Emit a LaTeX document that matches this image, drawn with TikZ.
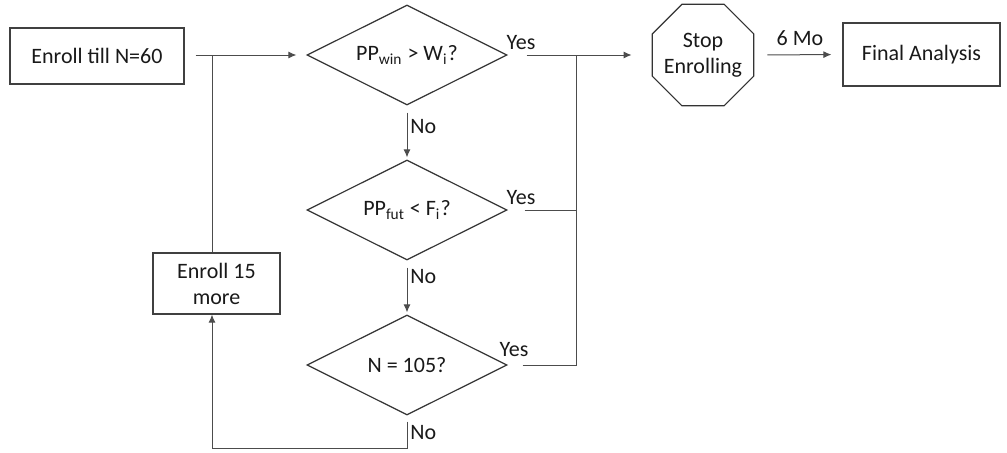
\documentclass[tikz,border=0pt]{standalone}
\usepackage{fontspec}
\setmainfont{Carlito}
\usepackage{tikz}
\usetikzlibrary{positioning,shapes.geometric,arrows.meta}

\tikzset{
  box/.style={draw=black!75, line width=0.6pt, rectangle, align=center, inner sep=2pt},
  decision/.style={draw=black!80, line width=0.6pt, diamond, aspect=2, inner sep=0pt, minimum width=100pt, minimum height=50pt},
  stopsign/.style={draw=black!80, line width=0.6pt, regular polygon, regular polygon sides=8, minimum size=55pt, align=center, inner sep=0pt},
  link/.style={draw=black!70, line width=0.5pt},
  arrow/.style={link, -{Latex[length=4pt,width=3.5pt]}}
}

\begin{document}
\begin{tikzpicture}[x=0.5pt,y=-0.5pt,font=\fontsize{11}{13}\selectfont,text=black!90]

\useasboundingbox (0,0) rectangle (1007,452);

\node[box, minimum width=87pt, minimum height=28pt](enroll) at (97,56) {Enroll till N=60};
\node[box, minimum width=63.5pt, minimum height=30.5pt](more) at (216.5,283.5) {Enroll 15\\more};

\node[decision](win) at (407,55) {PP\textsubscript{win} > W\textsubscript{i}?};
\node[decision](fut) at (407,210) {PP\textsubscript{fut} < F\textsubscript{i}?};
\node[decision](last) at (407,365) {N = 105?};

\node[stopsign](stop) at (703,55) {};
\node[align=center](stoptext) at (stop.center) {Stop\\Enrolling};
\node[box, minimum width=78.5pt, minimum height=31.5pt](final) at (921.5,54.5) {Final Analysis};

\coordinate(loop) at (212,55);
\coordinate(join) at (576,55);
\coordinate(back) at (212,448);

\draw[arrow, shorten <=5.5pt, shorten >=5pt] (enroll.east |- win.west) -- (win.west);
\draw[link] (more.north -| loop) -- (loop);

\draw[arrow, shorten <=9.5pt, shorten >=10pt] (win.east) -- (stop.west);
\draw[link, shorten <=8.5pt] (fut.east) -- (fut.east -| join);
\draw[link, shorten <=7.5pt] (last.east) -- (last.east -| join) -- (join);

\draw[arrow, shorten <=3.5pt, shorten >=1pt] (win.south) -- (fut.north);
\draw[arrow, shorten <=3.5pt, shorten >=1pt] (fut.south) -- (last.north);
\draw[arrow, shorten <=3pt] (last.south) -- (last.south |- back) -- (back) -- (more.south -| back);

\draw[arrow, shorten <=6.5pt, shorten >=5.5pt] (stop.east) -- (final.west);

\node(yes1) at (521,43) {Yes};
\node(yes2) at (521,198) {Yes};
\node(yes3) at (514,350) {Yes};
\node[anchor=west, inner sep=1pt](no1) at (408,127) {No};
\node[anchor=west, inner sep=1pt](no2) at (408,277) {No};
\node[anchor=west, inner sep=1pt](no3) at (408,433) {No};
\node(months) at (800,38) {6 Mo};

\end{tikzpicture}
\end{document}
